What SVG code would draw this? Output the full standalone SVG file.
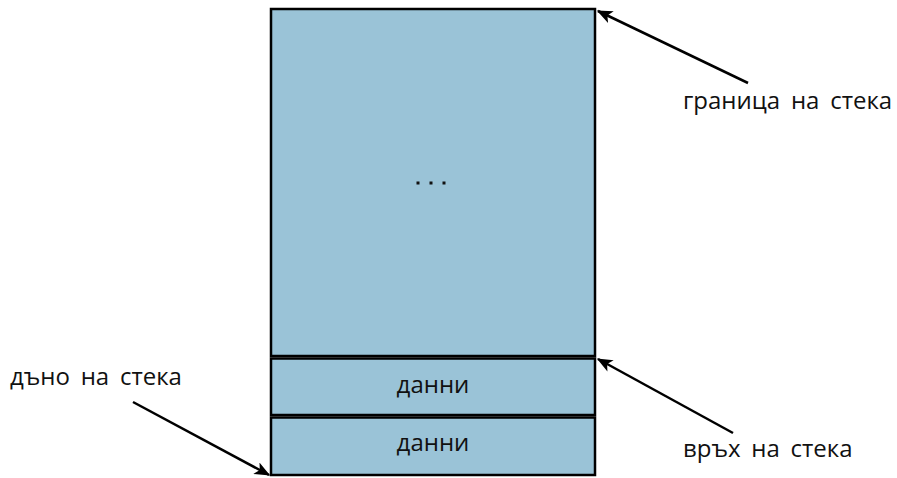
<svg xmlns="http://www.w3.org/2000/svg" width="897" height="478" viewBox="0 0 897 478">
<defs>
<style>
.box{fill:#9AC3D7;stroke:#000;stroke-width:2.5}
.t{font-family:"Open Sans","Noto Sans","DejaVu Sans",sans-serif;font-size:24px;fill:#111;word-spacing:4.5px}
.c{text-anchor:middle}
.d{fill:#111}
</style>
<marker id="ah2" viewBox="0 0 12 10" refX="11" refY="5" markerWidth="16" markerHeight="13" markerUnits="userSpaceOnUse" orient="auto"><path d="M0,0 L12,5 L0,10 L3,5 z" fill="#000"/></marker>
</defs>
<g id="stack-space">
<rect class="box" x="271" y="9" width="324" height="347"/>
<rect class="d" x="416.5" y="181.5" width="3" height="3"/>
<rect class="d" x="429.5" y="181.5" width="3" height="3"/>
<rect class="d" x="442.5" y="181.5" width="3" height="3"/>
</g>
<g id="data1">
<rect class="box" x="271" y="358.5" width="324" height="56.5"/>
<text class="t c" x="433" y="392.5">данни</text>
</g>
<g id="data2">
<rect class="box" x="271" y="417.5" width="324" height="57.5"/>
<text class="t c" x="433" y="450.5">данни</text>
</g>
<g id="label-limit"><text class="t" x="683" y="109">граница на стека</text></g>
<g id="label-bottom"><text class="t" x="10" y="385">дъно на стека</text></g>
<g id="label-top"><text class="t" x="683" y="456.5">връх на стека</text></g>
<g id="connectors">
<line x1="748" y1="83" x2="598" y2="11" stroke="#000" stroke-width="2.5" marker-end="url(#ah2)"/>
<line x1="733" y1="433" x2="598" y2="359" stroke="#000" stroke-width="2.5" marker-end="url(#ah2)"/>
<line x1="133" y1="402" x2="269" y2="475" stroke="#000" stroke-width="2.5" marker-end="url(#ah2)"/>
</g>
</svg>
